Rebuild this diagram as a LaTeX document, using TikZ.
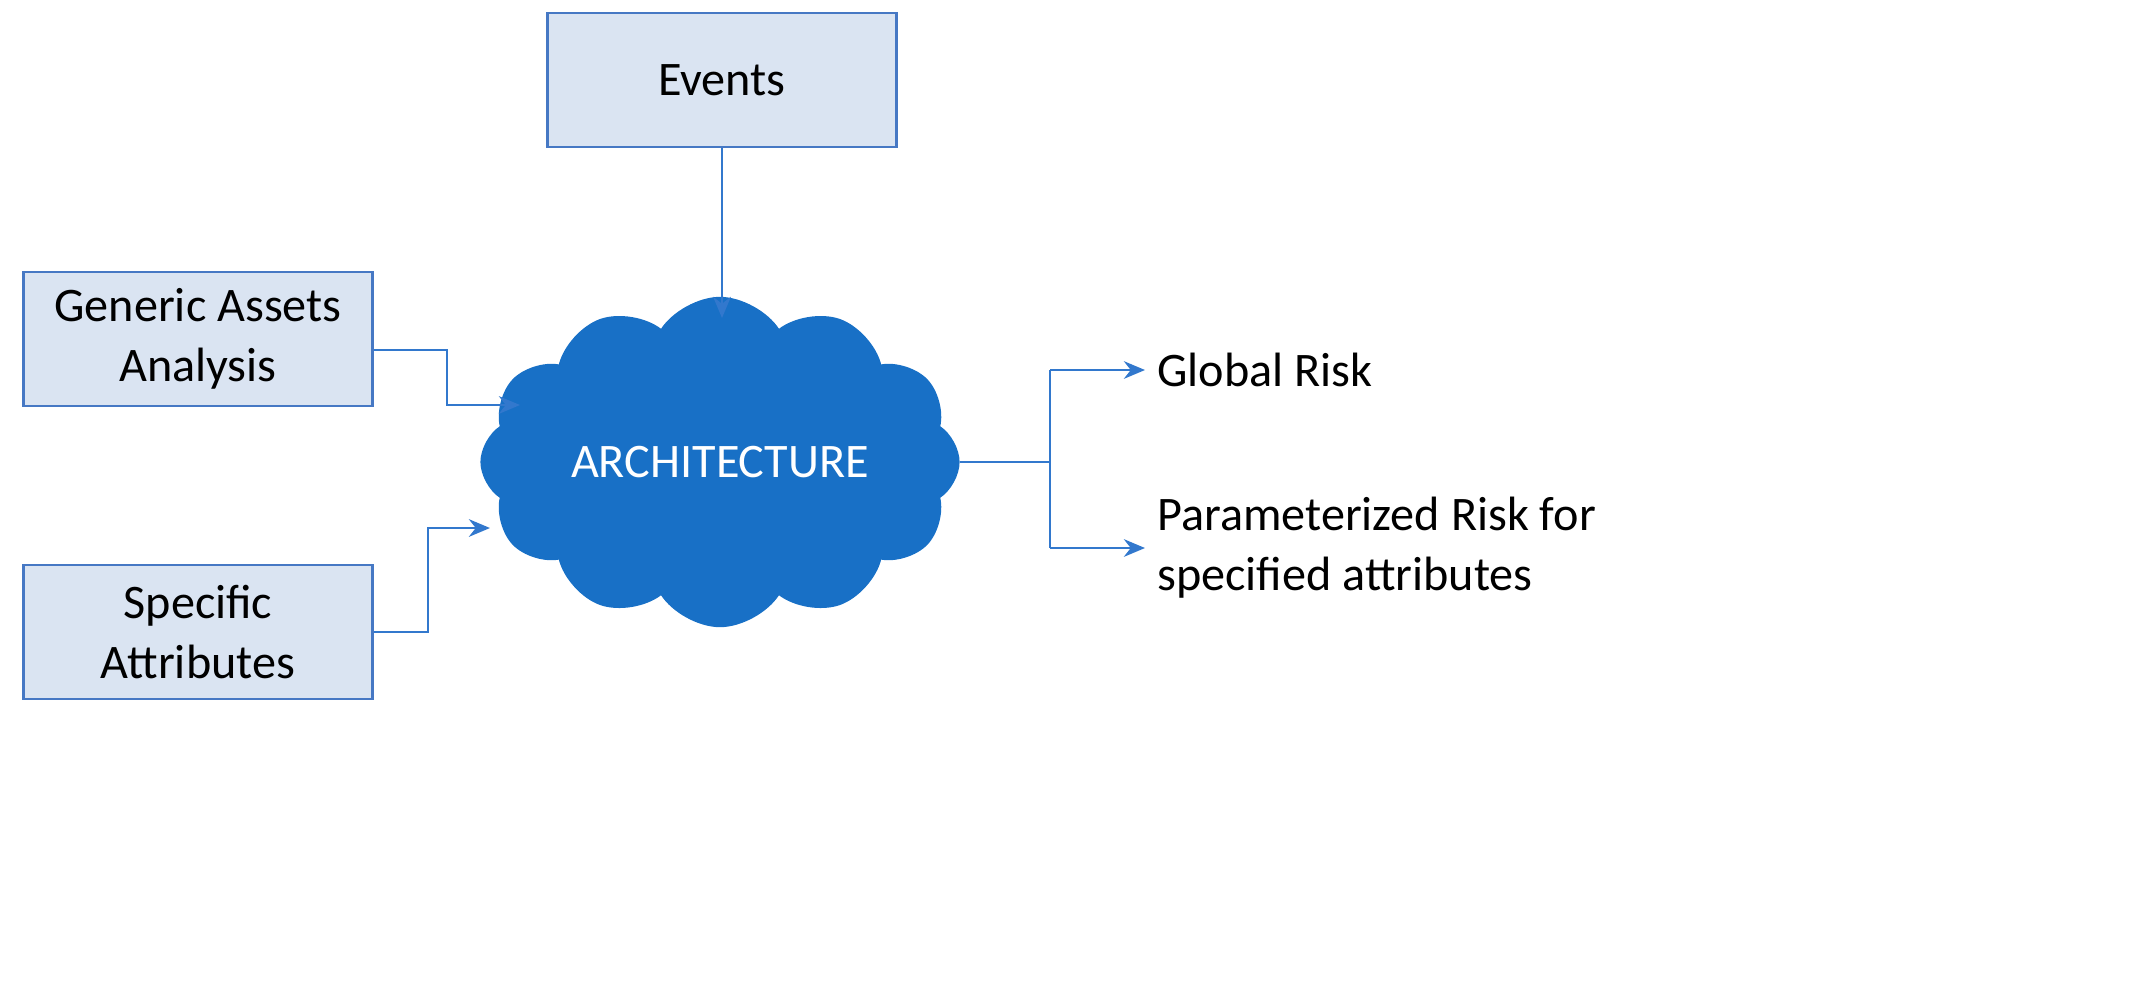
\documentclass[tikz,border=0pt]{standalone}
\usepackage{fontspec}
\setmainfont{Carlito}
\usetikzlibrary{shapes.symbols,arrows.meta}
\definecolor{boxfill}{RGB}{218,228,242}
\definecolor{boxline}{RGB}{70,120,196}
\definecolor{conn}{RGB}{50,120,205}
\definecolor{cloudc}{RGB}{24,112,198}
\begin{document}
\begin{tikzpicture}[x=0.01cm,y=-0.01cm,
  box/.style={draw=boxline,fill=boxfill,line width=0.8pt,minimum width=3.49cm,minimum height=1.34cm,align=center,font=\fontsize{13.7pt}{17pt}\selectfont},
  lbl/.style={anchor=west,align=left,font=\fontsize{13.7pt}{17pt}\selectfont},
  c/.style={draw=conn,line width=0.8pt},
  a/.style={c,-{Stealth[length=6pt,width=5pt]}}]
\useasboundingbox (0,0) rectangle (2151,990);
\node[box] (ev) at (722,80) {Events};
\node[box] (ga) at (198,339) {Generic Assets\\Analysis};
\node[box] (sa) at (198,632) {Specific\\Attributes};
\node[cloud,cloud puffs=12,cloud puff arc=115,aspect=1.66,fill=cloudc,draw=cloudc,
  minimum width=4.75cm,minimum height=2.78cm,text=white,font=\fontsize{13.7pt}{17pt}\selectfont] (ar) at (720,462) {ARCHITECTURE};
\node[lbl] (gr) at (1145,370) {Global Risk};
\node[lbl] (pr) at (1145,548) {Parameterized Risk for\\specified attributes};
\coordinate (ev2) at (722,318);
\coordinate (g1) at (447,350); \coordinate (g2) at (447,405); \coordinate (g3) at (520,405);
\coordinate (s1) at (428,632); \coordinate (s2) at (428,528); \coordinate (s3) at (490,528);
\coordinate (o2) at (1050,462);
\coordinate (o3) at (1050,370); \coordinate (o4) at (1050,548);
\draw[a] (ev.south) -- (ev2);
\draw[a] (ga.east |- g1) -- (g1) -- (g2) -- (g3);
\draw[a] (sa.east) -- (s1) -- (s2) -- (s3);
\draw[c] (ar.east) -- (o2);
\draw[c] (o3) -- (o4);
\draw[a] (o3) -- (gr.west);
\draw[a] (o4) -- (pr.west);
\end{tikzpicture}
\end{document}
